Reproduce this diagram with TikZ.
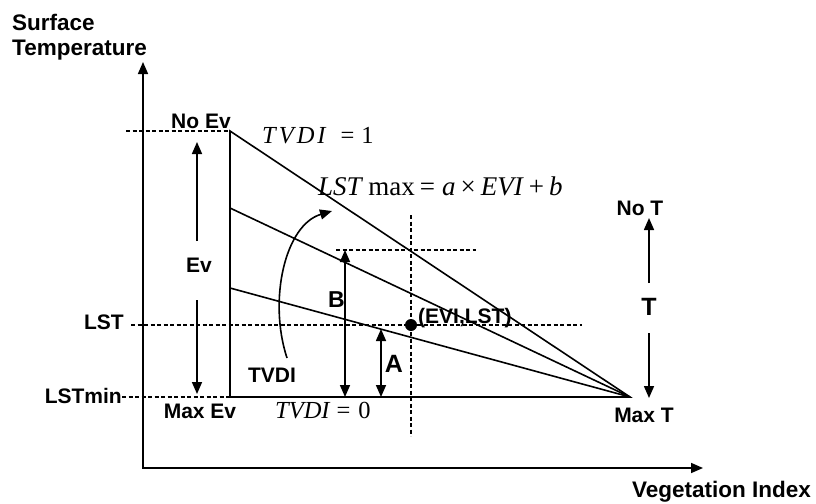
\documentclass[tikz,border=0pt]{standalone}
\usepackage{fontspec}
\setmainfont{Liberation Sans}
\newfontfamily\eqfont{Liberation Serif}
\usetikzlibrary{arrows.meta, positioning, calc}

\begin{document}
\begin{tikzpicture}[
    x=1pt, y=-1pt,
    lbl/.style={font=\bfseries\fontsize{21}{25}\selectfont, inner sep=0pt},
    ttl/.style={font=\bfseries\fontsize{22.5}{25}\selectfont, inner sep=0pt, align=left},
    big/.style={font=\bfseries\fontsize{25}{28}\selectfont, inner sep=0pt},
    eqn/.style={font=\eqfont\fontsize{24.5}{28}\selectfont, inner sep=0pt},
    edge/.style={line width=1.6pt},
    guide/.style={line width=1.3pt, dash pattern=on 4pt off 2.5pt},
    arrow/.style={line width=1.6pt, -{Triangle[length=12pt,width=10pt]}},
    twoway/.style={line width=1.6pt, {Triangle[length=12pt,width=10pt]}-{Triangle[length=12pt,width=10pt]}}
]
\useasboundingbox (0,0) rectangle (816,503);

% axes
\coordinate (origin) at (143,468);
\coordinate (ytip) at (143,62);
\coordinate (xtip) at (703,468);
\draw[twoway] (ytip) -- (origin) -- (xtip);
\node[ttl, anchor=north west] (ytitle) at (12,13.5) {Surface\\Temperature};
\node[ttl, anchor=base west] (xtitle) at (632,497.5) {Vegetation Index};

% triangle and TVDI lines
\coordinate (noev) at (230,131);
\coordinate (maxev) at (230,397);
\coordinate (maxt) at (630,397);
\coordinate (upper) at (230,208);
\coordinate (lower) at (230,288);
\draw[edge] (noev) -- (maxev) -- (maxt) -- cycle;
\draw[edge] (upper) -- (maxt);
\draw[edge] (lower) -- (maxt);

% dashed guides
\coordinate (noevL) at (126,131);
\coordinate (minL) at (122,397);
\coordinate (lstL) at (131,325);
\coordinate (lstR) at (582,325);
\coordinate (eviT) at (411,215);
\coordinate (eviB) at (411,436);
\coordinate (maxL) at (336,250);
\coordinate (maxR) at (476,250);
\draw[guide] (noevL) -- (noev);
\draw[guide] (minL) -- (maxev);
\draw[guide] (lstL) -- (lstR);
\draw[guide] (eviT) -- (eviB);
\draw[guide] (maxL) -- (maxR);

% pixel point
\coordinate (pt) at (411,325);
\fill (pt) circle (6pt);
\node[lbl, anchor=base west] (ptlbl) at (418,323) {(EVI,LST)};

% A and B
\coordinate (bTop) at (345,250);
\coordinate (bBot) at (345,397);
\coordinate (aTop) at (381,329);
\coordinate (aBot) at (381,397);
\draw[twoway] (bTop) -- (bBot);
\draw[twoway] (aTop) -- (aBot);
\node[lbl, font=\bfseries\fontsize{23}{26}\selectfont, anchor=base] (blbl) at (336.5,307) {B};
\node[big, anchor=base] (albl) at (394,372) {A};

% Ev side
\node[lbl, anchor=base] (noevlbl) at (201,128) {No Ev};
\node[lbl, anchor=base] (evlbl) at (199,272) {Ev};
\node[lbl, anchor=base] (maxevlbl) at (200,418) {Max Ev};
\coordinate (evUp0) at (197,241);
\coordinate (evUp1) at (197,142);
\coordinate (evDn0) at (197,300);
\coordinate (evDn1) at (197,394);
\draw[arrow] (evUp0) -- (evUp1);
\draw[arrow] (evDn0) -- (evDn1);

% temperature labels
\node[lbl, anchor=base east] (lstlbl) at (124,329) {LST};
\node[lbl, anchor=base east] (minlbl) at (122,403) {LSTmin};

% T side
\node[lbl, anchor=base] (notlbl) at (640,215) {No T};
\node[big, anchor=base] (tlbl) at (649,315) {T};
\node[lbl, anchor=base] (maxtlbl) at (644,422) {Max T};
\coordinate (tUp0) at (649,283);
\coordinate (tUp1) at (649,218);
\coordinate (tDn0) at (649,333);
\coordinate (tDn1) at (649,398);
\draw[arrow] (tUp0) -- (tUp1);
\draw[arrow] (tDn0) -- (tDn1);

% TVDI curved arrow
\node[lbl, anchor=base] (tvdilbl) at (272,382) {TVDI};
\coordinate (arcS) at (287,358);
\coordinate (arcE) at (332,211);
\draw[arrow] (arcS) .. controls (268,300) and (285,225) .. (arcE);

% equations
\node[eqn, anchor=base west] (tvdi1) at (262,143)
  {\textit{T\kern3pt V\kern3pt D\kern3pt I}\kern14pt=\kern7pt1};
\node[eqn, anchor=base west] (tvdi0) at (275,418)
  {\textit{TVDI}\kern6pt=\kern8pt0};
\node[eqn, font=\eqfont\fontsize{27}{30}\selectfont, anchor=base west] (lstmax) at (318,195)
  {\textit{LST}\kern5pt max\kern5pt=\kern7pt\textit{a}\kern5pt×\kern5pt\textit{EVI}\kern5pt+\kern5pt\textit{b}};
\end{tikzpicture}
\end{document}
